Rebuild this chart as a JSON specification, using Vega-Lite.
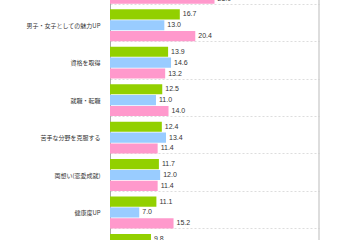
{
  "$schema": "https://vega.github.io/schema/vega-lite/v6.json",
  "width": 209,
  "height": 240,
  "autosize": {"type": "none"},
  "padding": {"left": 110, "top": 0, "right": 41, "bottom": 0},
  "background": "white",
  "config": {"view": {"stroke": null}, "font": "Noto Sans CJK JP"},
  "data": {"values": [
    {"item": "知識・教養UP", "group": "女子", "value": 25.0},
    {"item": "男子・女子としての魅力UP", "group": "全体", "value": 16.7},
    {"item": "男子・女子としての魅力UP", "group": "男子", "value": 13.0},
    {"item": "男子・女子としての魅力UP", "group": "女子", "value": 20.4},
    {"item": "資格を取得", "group": "全体", "value": 13.9},
    {"item": "資格を取得", "group": "男子", "value": 14.6},
    {"item": "資格を取得", "group": "女子", "value": 13.2},
    {"item": "就職・転職", "group": "全体", "value": 12.5},
    {"item": "就職・転職", "group": "男子", "value": 11.0},
    {"item": "就職・転職", "group": "女子", "value": 14.0},
    {"item": "苦手な分野を克服する", "group": "全体", "value": 12.4},
    {"item": "苦手な分野を克服する", "group": "男子", "value": 13.4},
    {"item": "苦手な分野を克服する", "group": "女子", "value": 11.4},
    {"item": "両想い(恋愛成就)", "group": "全体", "value": 11.7},
    {"item": "両想い(恋愛成就)", "group": "男子", "value": 12.0},
    {"item": "両想い(恋愛成就)", "group": "女子", "value": 11.4},
    {"item": "健康度UP", "group": "全体", "value": 11.1},
    {"item": "健康度UP", "group": "男子", "value": 7.0},
    {"item": "健康度UP", "group": "女子", "value": 15.2},
    {"item": "趣味を見つける", "group": "全体", "value": 9.8}
  ]},
  "layer": [
    {
      "mark": {"type": "bar"},
      "encoding": {
        "y": {
          "field": "item", "type": "nominal",
          "sort": ["知識・教養UP", "男子・女子としての魅力UP", "資格を取得", "就職・転職", "苦手な分野を克服する", "両想い(恋愛成就)", "健康度UP", "趣味を見つける"],
          "scale": {"range": [-30.95, 268.65], "paddingInner": 0.15, "paddingOuter": 0.075},
          "axis": {
            "title": null, "domain": true, "domainColor": "#aaaaaa", "ticks": false,
            "labelFontSize": 6, "labelColor": "#333333", "labelPadding": 10,
            "labelFont": "Noto Sans CJK JP",
            "labelExpr": "datum.value === '知識・教養UP' || datum.value === '趣味を見つける' ? '' : datum.label",
            "grid": true, "gridDash": [2, 2], "gridColor": "#dddddd", "tickBand": "extent"
          }
        },
        "yOffset": {"field": "group", "type": "nominal", "sort": ["全体", "男子", "女子"], "scale": {"paddingInner": 0.07}},
        "x": {"field": "value", "type": "quantitative", "scale": {"domain": [0, 50], "nice": false}, "axis": null},
        "color": {"field": "group", "type": "nominal", "scale": {"domain": ["全体", "男子", "女子"], "range": ["#92d000", "#99ccff", "#ff99cc"]}, "legend": null}
      }
    },
    {
      "mark": {"type": "text", "align": "left", "baseline": "middle", "dx": 3, "fontSize": 7, "color": "#333333", "font": "Liberation Sans"},
      "encoding": {
        "y": {"field": "item", "type": "nominal", "sort": ["知識・教養UP", "男子・女子としての魅力UP", "資格を取得", "就職・転職", "苦手な分野を克服する", "両想い(恋愛成就)", "健康度UP", "趣味を見つける"]},
        "yOffset": {"field": "group", "type": "nominal", "sort": ["全体", "男子", "女子"]},
        "x": {"field": "value", "type": "quantitative"},
        "text": {"field": "value", "type": "quantitative", "format": ".1f"}
      }
    },
    {
      "data": {"values": [{"edge": 50}]},
      "mark": {"type": "rule", "color": "#bbbbbb"},
      "encoding": {"x": {"field": "edge", "type": "quantitative"}}
    }
  ]
}
